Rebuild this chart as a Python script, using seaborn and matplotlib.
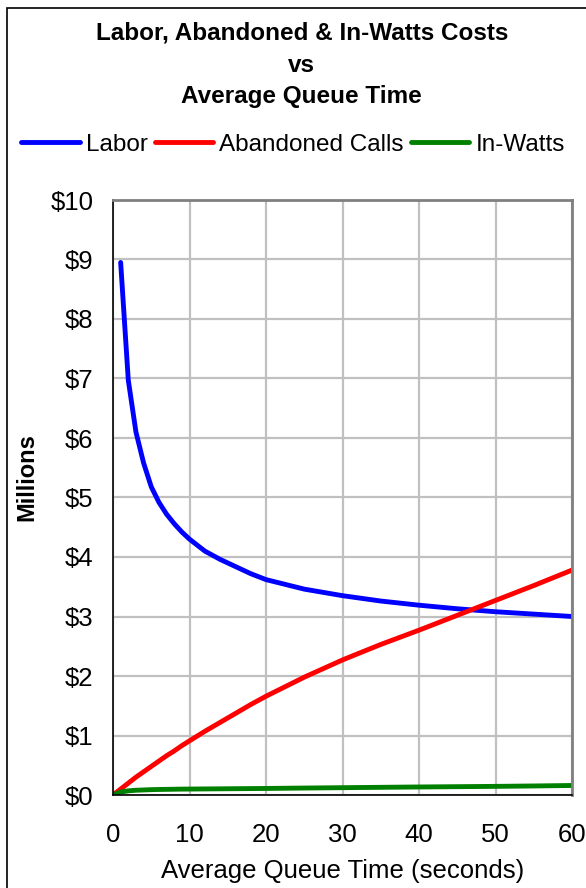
import numpy as np
import pandas as pd
import matplotlib
matplotlib.use("Agg")
import matplotlib.pyplot as plt
from matplotlib.patches import Rectangle
import seaborn as sns

# Average queue time (seconds) and annual costs in millions of dollars
queue_time = [0, 1, 2, 3, 4, 5, 6, 7, 8, 9, 10, 12, 14, 16, 18, 20, 25, 30, 35, 40, 45, 50, 55, 60]
labor = [np.nan, 8.95, 6.97, 6.10, 5.58, 5.18, 4.92, 4.72, 4.56, 4.42, 4.30, 4.10, 3.96, 3.84,
         3.72, 3.62, 3.46, 3.35, 3.26, 3.19, 3.13, 3.08, 3.04, 3.00]
abandoned_calls = [0.0, 0.10, 0.20, 0.30, 0.39, 0.48, 0.57, 0.66, 0.74, 0.83, 0.91, 1.07, 1.22,
                   1.37, 1.52, 1.66, 1.98, 2.27, 2.53, 2.77, 3.02, 3.27, 3.52, 3.78]
in_watts = [0.0, 0.05, 0.07, 0.08, 0.085, 0.09, 0.093, 0.095, 0.097, 0.099, 0.10, 0.102, 0.104,
            0.106, 0.108, 0.11, 0.117, 0.123, 0.129, 0.135, 0.14, 0.145, 0.152, 0.16]

series_names = ["Labor", "Abandoned Calls", "In-Watts"]
series_colors = ["#0000FF", "#FF0000", "#008000"]
x_ticks = [0, 10, 20, 30, 40, 50, 60]
y_ticks = [0, 1, 2, 3, 4, 5, 6, 7, 8, 9, 10]
y_tick_labels = ["$0", "$1", "$2", "$3", "$4", "$5", "$6", "$7", "$8", "$9", "$10"]

frames = []
for name, vals in zip(series_names, [labor, abandoned_calls, in_watts]):
    frames.append(pd.DataFrame({"time": queue_time, "cost": vals, "series": name}))
df = pd.concat(frames, ignore_index=True).dropna()

sns.set_style("white")
plt.rcParams["font.family"] = ["Liberation Sans", "DejaVu Sans"]
plt.rcParams["text.color"] = "black"
plt.rcParams["axes.labelcolor"] = "black"
plt.rcParams["xtick.color"] = "black"
plt.rcParams["ytick.color"] = "black"

fig = plt.figure(figsize=(5.86, 8.88), dpi=100)
ax = fig.add_axes([113 / 586, 1 - 795 / 888, (572 - 113) / 586, (795 - 200) / 888])

sns.lineplot(data=df, x="time", y="cost", hue="series", hue_order=series_names,
             palette=series_colors, linewidth=3.5, ax=ax, legend=False,
             solid_capstyle="round")

ax.set_xlim(0, 60)
ax.set_ylim(0, 10)
ax.set_xticks(x_ticks)
ax.set_xticklabels([str(t) for t in x_ticks])
ax.set_yticks(y_ticks)
ax.set_yticklabels(y_tick_labels)
ax.grid(True, color="#C0C0C0", linewidth=1.6)
ax.set_axisbelow(True)

for side in ["left", "bottom"]:
    ax.spines[side].set_color("black")
    ax.spines[side].set_linewidth(1.2)
for side in ["top", "right"]:
    ax.spines[side].set_color("#808080")
    ax.spines[side].set_linewidth(2.0)
    ax.spines[side].set_visible(True)

ax.tick_params(axis="both", direction="out", length=6, width=1.0, color="black",
               labelcolor="black", labelsize=18.5, pad=8)
ax.tick_params(axis="x", pad=14)

ax.set_xlabel("Average Queue Time (seconds)", fontsize=18.5, labelpad=9, color="black")
ax.set_ylabel("Millions", fontsize=17, fontweight="bold", color="black")
ax.yaxis.set_label_coords((38 - 113) / 459, (795 - 477) / 595)

title_lines = ["Labor, Abandoned & In-Watts Costs", "vs", "Average Queue Time"]
for text, ypix in zip(title_lines, [33, 65, 96]):
    fig.text(0.515, 1 - ypix / 888, text, ha="center", va="center",
             fontsize=17.5, fontweight="bold", color="black")

handles = [plt.Line2D([], [], color=c, linewidth=3.5) for c in series_colors]
leg = fig.legend(handles, series_names, loc="center", bbox_to_anchor=(0.5, 1 - 145 / 888),
                 ncol=3, frameon=False, fontsize=17.5, handlelength=2.4, handletextpad=0.25,
                 columnspacing=0.3, borderpad=0, borderaxespad=0)
for t in leg.get_texts():
    t.set_color("black")

fig.patches.append(Rectangle((7 / 586, -0.05), 1.2, 1 - 8 / 888 + 0.05,
                             transform=fig.transFigure, fill=False,
                             edgecolor="black", linewidth=1.2, zorder=-1))

fig.savefig("out.png", dpi=100)
